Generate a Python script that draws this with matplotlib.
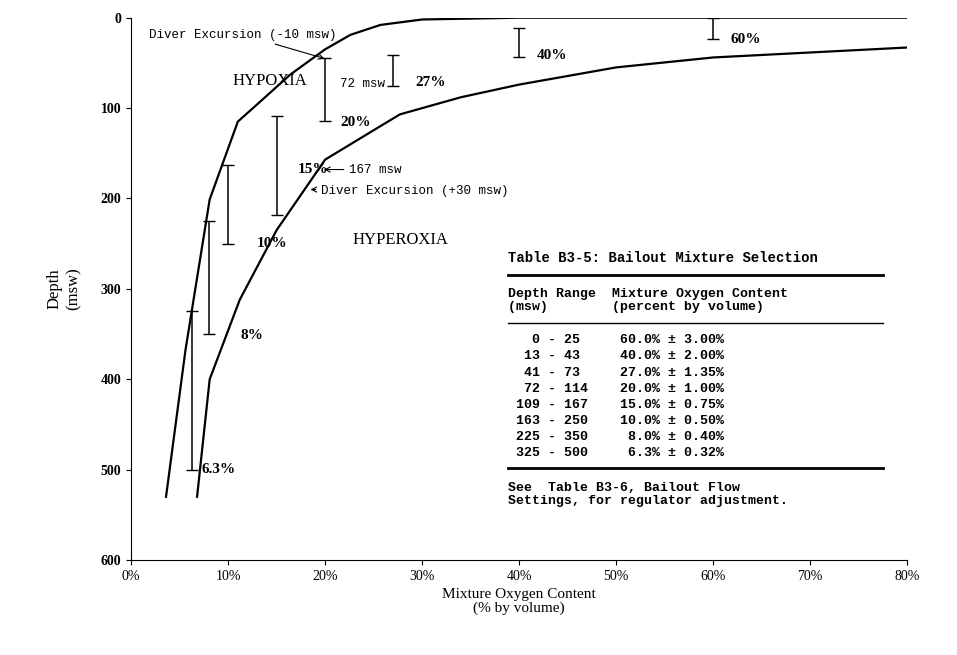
import matplotlib.pyplot as plt

# bailout mixtures: O2 %, shallow / deep limits (msw)
mix_o2 = [6.3, 8, 10, 15, 20, 27, 40, 60]
mix_top = [325, 225, 163, 109, 45, 41, 11, 0]
mix_bot = [500, 350, 250, 218, 114, 76, 44, 24]
mix_lbl = ["6.3%", "8%", "10%", "15%", "20%", "27%", "40%", "60%"]
lbl_xy = [(7.3, 500), (11.3, 352), (13.0, 250), (17.2, 168), (21.6, 116), (29.3, 72), (41.8, 42), (61.8, 24)]

hypo_x = [3.6, 5.6, 8.1, 11.0, 13.5, 16.4, 20.0, 22.6, 25.7, 30.0, 40.0, 80.0]
hypo_y = [530, 368, 201, 115, 91, 63, 35, 19, 8, 2, 0, 0]
hyper_x = [6.8, 8.1, 11.2, 15.0, 20.0, 27.7, 34.0, 40.0, 50.0, 60.0, 80.0]
hyper_y = [530, 400, 312, 235, 157, 107, 88, 74, 55, 44, 33]

table_rows = [("0 - 25", "60.0% ± 3.00%"), ("13 - 43", "40.0% ± 2.00%"),
              ("41 - 73", "27.0% ± 1.35%"), ("72 - 114", "20.0% ± 1.00%"),
              ("109 - 167", "15.0% ± 0.75%"), ("163 - 250", "10.0% ± 0.50%"),
              ("225 - 350", "8.0% ± 0.40%"), ("325 - 500", "6.3% ± 0.32%")]

fig = plt.figure(figsize=(9.57, 6.55), dpi=100)
ax = fig.add_axes([0.137, 0.145, 0.811, 0.828])
serif = "Liberation Serif"
mono = "Liberation Mono"

ax.plot(hypo_x, hypo_y, color="black", lw=1.6)
ax.plot(hyper_x, hyper_y, color="black", lw=1.6)
for x, t, b in zip(mix_o2, mix_top, mix_bot):
    ax.errorbar([x], [(t + b) / 2], yerr=[[(b - t) / 2]], fmt="none", ecolor="black", capsize=4, lw=1.1)
for l, (x, y) in zip(mix_lbl, lbl_xy):
    ax.text(x, y, l, family=serif, fontsize=11, fontweight="bold", va="center")

ax.text(10.5, 75, "HYPOXIA", family=serif, fontsize=12)
ax.text(22.8, 250, "HYPEROXIA", family=serif, fontsize=12)
ax.text(21.5, 73, "72 msw", family=mono, fontsize=9, va="center")
ax.annotate("Diver Excursion (-10 msw)", xy=(20.2, 46), xytext=(1.8, 22), family=mono, fontsize=9,
            arrowprops=dict(arrowstyle="->", lw=0.8))
ax.annotate("167 msw", xy=(19.6, 168), xytext=(22.5, 168), family=mono, fontsize=9, va="center",
            arrowprops=dict(arrowstyle="->", lw=0.8))
ax.annotate("Diver Excursion (+30 msw)", xy=(18.2, 190), xytext=(19.6, 192), family=mono, fontsize=9, va="center",
            arrowprops=dict(arrowstyle="->", lw=0.8))

# table
tx, tr = 38.8, 77.5
ax.text(tx, 266, "Table B3-5: Bailout Mixture Selection", family=mono, fontsize=10, fontweight="bold", va="center")
ax.plot([tx, tr], [285, 285], color="black", lw=2)
ax.text(tx, 313, "Depth Range  Mixture Oxygen Content\n(msw)        (percent by volume)",
        family=mono, fontsize=9.5, fontweight="bold", va="center", linespacing=1.1)
ax.plot([tx, tr], [338, 338], color="black", lw=1)
for i, (d, m) in enumerate(table_rows):
    a, b = d.split(" - ")
    ax.text(tx, 357 + i * 17.8, f"{a:>4} - {b:<4}   {m:>13}", family=mono, fontsize=9.5,
            fontweight="bold", va="center")
ax.plot([tx, tr], [498, 498], color="black", lw=2)
ax.text(tx, 528, "See  Table B3-6, Bailout Flow\nSettings, for regulator adjustment.",
        family=mono, fontsize=9.5, fontweight="bold", va="center", linespacing=1.1)

ax.set_xlim(0, 80)
ax.set_ylim(600, 0)
ax.set_xticks(range(0, 81, 10))
ax.set_xticklabels([f"{v}%" for v in range(0, 81, 10)], family=serif, fontsize=10)
ax.set_yticks(range(0, 601, 100))
ax.set_yticklabels([str(v) for v in range(0, 601, 100)], family=serif, fontsize=10, fontweight="bold")
ax.spines["top"].set_visible(False)
ax.spines["right"].set_visible(False)
ax.set_xlabel("Mixture Oxygen Content\n(% by volume)", family=serif, fontsize=11, linespacing=1.0)
ax.set_ylabel("Depth\n(msw)", family=serif, fontsize=12, labelpad=14)
fig.savefig("out.png", dpi=100)
